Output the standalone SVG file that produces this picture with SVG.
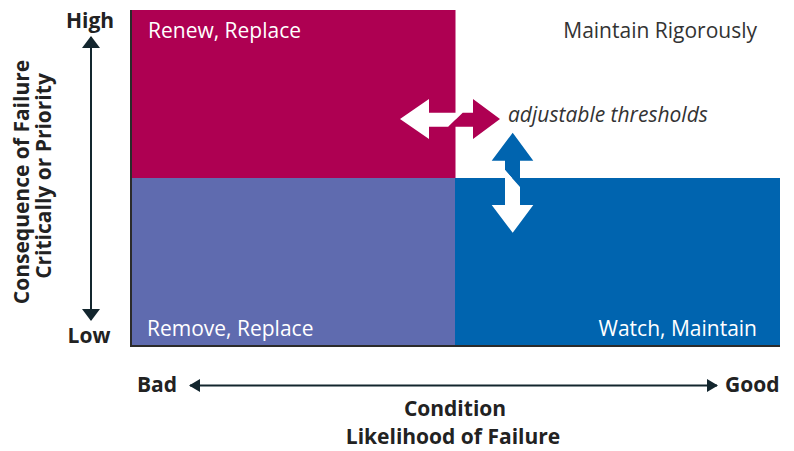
<svg xmlns="http://www.w3.org/2000/svg" width="794" height="451" viewBox="0 0 794 451">
<style>
.lbl{font-family:"Open Sans","Liberation Sans",sans-serif;font-size:21px}
.w{fill:#ffffff}
.d{fill:#333333}
.b{font-family:"Open Sans","Liberation Sans",sans-serif;font-size:21px;font-weight:bold;fill:#222222}
</style>
<defs>
<marker id="ah" markerWidth="12" markerHeight="18" refX="11" refY="9" orient="auto-start-reverse" markerUnits="userSpaceOnUse" viewBox="0 0 12 18">
<path d="M0,0 L12,9 L0,18 Z" fill="#13262e"/>
</marker>
<marker id="ahs" markerWidth="11" markerHeight="13" refX="10" refY="6.5" orient="auto-start-reverse" markerUnits="userSpaceOnUse" viewBox="0 0 11 13">
<path d="M0,0 L11,6.5 L0,13 Z" fill="#13262e"/>
</marker>
</defs>
<rect width="794" height="451" fill="#ffffff"/>
<g id="q-renew"><rect x="131" y="10" width="324.5" height="168.5" fill="#ae0052"/><text class="lbl w" x="148" y="38">Renew, Replace</text></g>
<g id="q-rigorous"><text class="lbl d" x="757" y="38" text-anchor="end">Maintain Rigorously</text></g>
<g id="q-remove"><rect x="131" y="178" width="324.5" height="168" fill="#5f6baf"/><text class="lbl w" x="147" y="336">Remove, Replace</text></g>
<g id="q-watch"><rect x="455" y="178" width="325" height="168" fill="#0064af"/><text class="lbl w" x="757" y="336" text-anchor="end">Watch, Maintain</text></g>
<g id="frame"><path d="M131,10 V346 H780" fill="none" stroke="#2b2b2b" stroke-width="2"/></g>
<g id="thresholds">
<polygon points="400,119 429,99 429,112.7 462.7,112.7 448.3,126.7 429,126.7 429,139" fill="#ffffff"/>
<polygon points="500,119 473,99 473,112.7 462.7,112.7 448.3,126.7 473,126.7 473,139" fill="#ae0052"/>
<polygon points="512.7,132.7 533.3,160.7 520,160.7 520,187 505,170 505,160.7 491.7,160.7" fill="#0064af"/>
<polygon points="512.7,232.7 491.7,205 505,205 505,170 520,187 520,205 533.3,205" fill="#ffffff"/>
<text class="lbl d" x="508" y="122" font-style="italic">adjustable thresholds</text>
</g>
<g id="connectors">
<line x1="91" y1="37" x2="91" y2="320" stroke="#13262e" stroke-width="2" marker-start="url(#ah)" marker-end="url(#ah)"/>
<line x1="190" y1="385.5" x2="717" y2="385.5" stroke="#13262e" stroke-width="2" marker-start="url(#ahs)" marker-end="url(#ahs)"/>
</g>
<g id="y-axis-labels">
<text class="b" x="90" y="28" text-anchor="middle">High</text>
<text class="b" x="89" y="343" text-anchor="middle">Low</text>
<text class="b" transform="translate(29,182) rotate(-90)" text-anchor="middle">Consequence of Failure</text>
<text class="b" transform="translate(51,176) rotate(-90)" text-anchor="middle">Critically or Priority</text>
</g>
<g id="x-axis-labels">
<text class="b" x="455" y="416" text-anchor="middle" font-size="20.5">Condition</text>
<text class="b" x="137" y="392">Bad</text>
<text class="b" x="725" y="392">Good</text>
<text class="b" x="453" y="444" text-anchor="middle" font-size="20.5">Likelihood of Failure</text>
</g>
</svg>
